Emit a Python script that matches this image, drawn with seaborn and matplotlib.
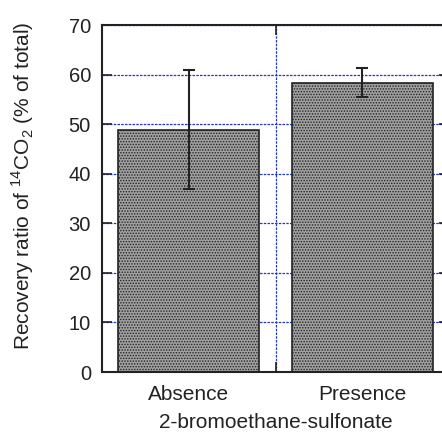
import matplotlib
matplotlib.use("Agg")
import matplotlib.pyplot as plt
import seaborn as sns
import pandas as pd
import numpy as np
from matplotlib.ticker import FixedLocator

categories = ["Absence", "Presence"]
recovery = [48.9, 58.4]
error = [11.95, 3.0]
yticks = [0, 10, 20, 30, 40, 50, 60, 70]

sns.set_theme(style="white")
plt.rcParams['font.family'] = ['Liberation Sans', 'DejaVu Sans']
plt.rcParams['mathtext.fontset'] = 'custom'
plt.rcParams['mathtext.rm'] = 'Liberation Sans'
plt.rcParams['hatch.color'] = '#2a2a2a'
plt.rcParams['hatch.linewidth'] = 0.7
plt.rcParams['text.color'] = '#222222'
plt.rcParams['axes.labelcolor'] = '#222222'

df = pd.DataFrame({"cond": categories, "val": recovery, "err": error})

fig = plt.figure(figsize=(4.42, 4.32), dpi=100)
ax = fig.add_axes([102/442, 1 - 372/432, 347/442, 347/432])

sns.barplot(data=df, x="cond", y="val", ax=ax, color="#9a9a9a",
            width=0.81, errorbar=None, edgecolor="#222222", linewidth=1.2,
            saturation=1, zorder=2)
for p in ax.patches:
    p.set_hatch("......")
    p.set_facecolor("#a0a0a0")

ax.errorbar(x=np.arange(len(categories)), y=df["val"], yerr=df["err"],
            fmt="none", ecolor="#222222", elinewidth=1.5, capsize=4,
            capthick=1.5, zorder=3)

ax.set_xlim(-0.5, 1.5)
ax.set_ylim(0, 70)
ax.set_yticks(yticks)
ax.xaxis.set_minor_locator(FixedLocator([0.5]))
ax.tick_params(axis='x', which='major', length=0, labelsize=15, pad=9,
               labelcolor='#222222')
ax.tick_params(axis='x', which='minor', direction='in', length=7,
               width=1.2, top=True, bottom=True, color='#222222')
ax.tick_params(axis='y', direction='in', length=7, width=1.2, left=True,
               right=True, labelsize=14.5, pad=8, color='#222222',
               labelcolor='#222222')
ax.grid(False)
ax.yaxis.grid(True, which='major', color='#2236c0', linestyle=(0, (2, 1)),
              linewidth=0.9, zorder=0)
ax.xaxis.grid(True, which='minor', color='#2236c0', linestyle=(0, (2, 1)),
              linewidth=0.9, zorder=0)
ax.set_axisbelow(True)
for s in ax.spines.values():
    s.set_visible(True)
    s.set_color('#222222')
    s.set_linewidth(1.5)

ax.set_xlabel("2-bromoethane-sulfonate", fontsize=15, labelpad=7)
ax.set_ylabel(r"Recovery ratio of $^{14}$CO$_{2}$ (% of total)", fontsize=15)
ax.yaxis.set_label_coords(-0.19, 0.536)

fig.savefig("out.png", dpi=100)
